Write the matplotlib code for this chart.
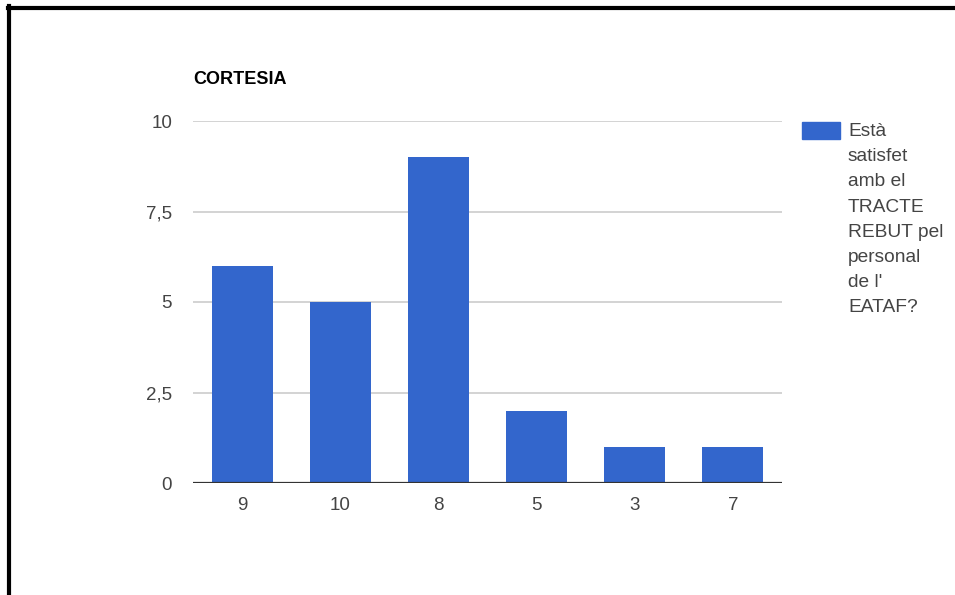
import matplotlib.pyplot as plt
from matplotlib.lines import Line2D
from matplotlib.patches import Rectangle

# Data
categories = ["9", "10", "8", "5", "3", "7"]
counts = [6, 5, 9, 2, 1, 1]
y_ticks = [0, 2.5, 5, 7.5, 10]
y_tick_labels = ["0", "2,5", "5", "7,5", "10"]
series_label = "Està\nsatisfet\namb el\nTRACTE\nREBUT pel\npersonal\nde l'\nEATAF?"
title = "CORTESIA"

bar_color = "#3366CC"
text_color = "#444444"

plt.rcParams['font.family'] = ['Liberation Sans', 'DejaVu Sans']

fig = plt.figure(figsize=(9.55, 5.95), dpi=100)
W, H = 955, 595
ax = fig.add_axes([193 / W, 1 - 483 / H, (782 - 193) / W, (483 - 121) / H])

x = range(len(categories))
ax.bar(x, counts, width=0.62, color=bar_color, zorder=2)

ax.set_xlim(-0.5, len(categories) - 0.5)
ax.set_ylim(0, 10)
ax.set_yticks(y_ticks)
ax.set_yticklabels(y_tick_labels)
ax.set_xticks(list(x))
ax.set_xticklabels(categories)
ax.tick_params(axis='both', length=0, labelsize=13.5, labelcolor=text_color)
ax.tick_params(axis='y', pad=15)
ax.tick_params(axis='x', pad=10)

for v in y_ticks[1:]:
    ax.axhline(v, color="#CCCCCC", lw=1.2, zorder=1)
ax.axhline(0, color="#333333", lw=1.6, zorder=3)

for s in ax.spines.values():
    s.set_visible(False)

# title
fig.text(193 / W, 1 - 80 / H, title, fontsize=13, fontweight='bold',
         color="#000000", ha='left', va='center')

# legend: swatch plus wrapped label
fig.patches.append(Rectangle((802 / W, 1 - 139 / H), 38 / W, 17 / H,
                             transform=fig.transFigure, color=bar_color))
fig.text(848 / W, 1 - 123 / H, series_label, fontsize=13.8, color=text_color,
         ha='left', va='top', linespacing=1.63)

# page frame edges
fig.add_artist(Line2D([7.5 / W, 1], [1 - 7.5 / H, 1 - 7.5 / H],
                      transform=fig.transFigure, color='black', lw=3))
fig.add_artist(Line2D([8.5 / W, 8.5 / W], [0, 1 - 6 / H],
                      transform=fig.transFigure, color='black', lw=3))

fig.savefig("out.png", dpi=100)
